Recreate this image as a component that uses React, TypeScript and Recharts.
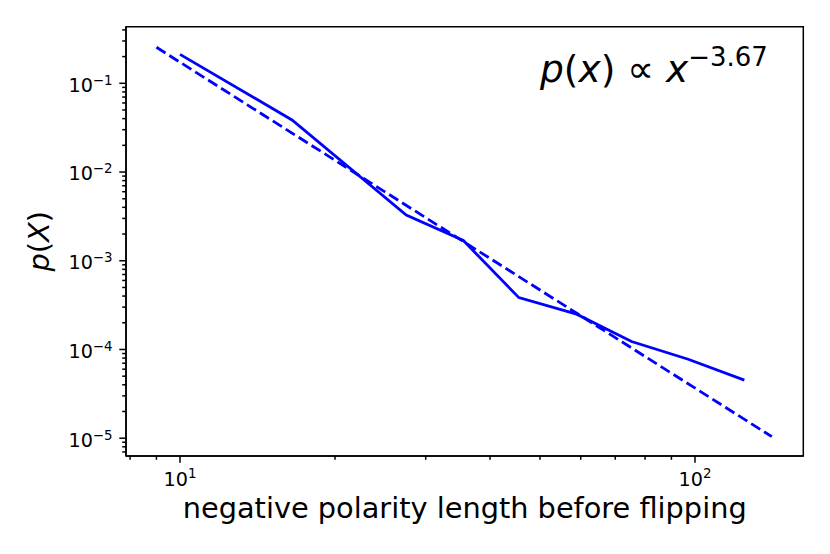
import React from 'react';
import { LineChart, Line, XAxis, YAxis, ReferenceArea, Customized } from 'recharts';

// Empirical distribution (solid) and power-law fit (dashed)
const solidX = [10.0, 16.5, 27.5, 35.5, 45.5, 58.9, 75.3, 97.0, 124.7];
const solidP = [0.212, 0.0386, 0.00328, 0.00169, 0.000384, 0.00025, 0.000123, 0.0000776, 0.0000451];
const fitX = [9.0, 141.0];
const fitP = [0.2546, 0.0000104];

// Axis ticks
const xMajorTicks = [10, 100];
const xMajorExp = ['1', '2'];
const xMinorTicks = [8, 9, 20, 30, 40, 50, 60, 70, 80, 90];
const yMajorTicks = [1e-1, 1e-2, 1e-3, 1e-4, 1e-5];
const yMajorExp = ['−1', '−2', '−3', '−4', '−5'];
const yMinorTicks = [
  7e-6, 8e-6, 9e-6,
  2e-5, 3e-5, 4e-5, 5e-5, 6e-5, 7e-5, 8e-5, 9e-5,
  2e-4, 3e-4, 4e-4, 5e-4, 6e-4, 7e-4, 8e-4, 9e-4,
  2e-3, 3e-3, 4e-3, 5e-3, 6e-3, 7e-3, 8e-3, 9e-3,
  2e-2, 3e-2, 4e-2, 5e-2, 6e-2, 7e-2, 8e-2, 9e-2,
  2e-1, 3e-1, 4e-1,
];

const xDomain: [number, number] = [7.855, 162.3];
const yDomain: [number, number] = [6.3e-6, 0.4345];

const xLabel = 'negative polarity length before flipping';
const fitExponent = '−3.67';

const solidData = solidX.map((x, i) => ({ x, p: solidP[i] }));
const fitData = fitX.map((x, i) => ({ x, p: fitP[i] }));

const FONT = '"DejaVu Sans", sans-serif';
const BLUE = '#0000ff';

const XTick = (props: any) => {
  const { x, y, payload } = props;
  const idx = xMajorTicks.indexOf(payload.value);
  const major = idx >= 0;
  return (
    <g>
      <line x1={x} x2={x} y1={y} y2={y + (major ? 6.7 : 3.8)} stroke="#000" strokeWidth={1.5} />
      {major && (
        <text x={x} y={y + 29.7} textAnchor="middle" fontSize={19.2} fontFamily={FONT} fill="#000">
          10<tspan dy={-7.7} fontSize={13.4}>{xMajorExp[idx]}</tspan>
        </text>
      )}
    </g>
  );
};

const YTick = (props: any) => {
  const { x, y, payload } = props;
  const idx = yMajorTicks.indexOf(payload.value);
  const major = idx >= 0;
  return (
    <g>
      <line x1={x} x2={x - (major ? 6.7 : 3.8)} y1={y} y2={y} stroke="#000" strokeWidth={1.5} />
      {major && (
        <text x={x - 13.4} y={y + 8.4} textAnchor="end" fontSize={19.2} fontFamily={FONT} fill="#000">
          10<tspan dy={-7} fontSize={13.4}>{yMajorExp[idx]}</tspan>
        </text>
      )}
    </g>
  );
};

const Texts = () => (
  <g fontFamily={FONT} fill="#000">
    <text x={464.7} y={518.3} textAnchor="middle" fontSize={28.8}>{xLabel}</text>
    <text x={49} y={241.3} textAnchor="middle" fontSize={28.8} transform="rotate(-90 49 241.3)">
      <tspan fontStyle="italic">p</tspan>(<tspan fontStyle="italic">X</tspan>)
    </text>
    <text x={540} y={82} fontSize={37.5}>
      <tspan fontStyle="italic">p</tspan>(<tspan fontStyle="italic">x</tspan>) ∝ <tspan fontStyle="italic">x</tspan>
      <tspan dy={-16} fontSize={26}>{fitExponent}</tspan>
    </text>
  </g>
);

export default function App() {
  return (
    <div style={{ position: 'absolute', left: 0, top: 0, width: 830, height: 554, background: '#fff' }}>
      <LineChart width={830} height={554} margin={{ top: 26.7, right: 26.7, left: 0, bottom: 0 }}>
        <XAxis
          type="number"
          dataKey="x"
          scale="log"
          domain={xDomain}
          allowDataOverflow
          ticks={[...xMinorTicks, ...xMajorTicks]}
          interval={0}
          tick={<XTick />}
          tickLine={false}
          tickSize={0}
          tickMargin={0}
          axisLine={{ stroke: '#000', strokeWidth: 1.5 }}
          height={98}
        />
        <YAxis
          type="number"
          dataKey="p"
          scale="log"
          domain={yDomain}
          allowDataOverflow
          ticks={[...yMinorTicks, ...yMajorTicks]}
          interval={0}
          tick={<YTick />}
          tickLine={false}
          tickSize={0}
          tickMargin={0}
          axisLine={{ stroke: '#000', strokeWidth: 1.5 }}
          width={126}
        />
        <ReferenceArea
          x1={xDomain[0]}
          x2={xDomain[1]}
          y1={yDomain[0]}
          y2={yDomain[1]}
          fill="none"
          fillOpacity={0}
          stroke="#000"
          strokeWidth={1.5}
          ifOverflow="visible"
        />
        <Line
          data={solidData}
          dataKey="p"
          type="linear"
          stroke={BLUE}
          strokeWidth={2.8}
          dot={false}
          activeDot={false}
          isAnimationActive={false}
        />
        <Line
          data={fitData}
          dataKey="p"
          type="linear"
          stroke={BLUE}
          strokeWidth={2.8}
          strokeDasharray="10.7 4.6"
          dot={false}
          activeDot={false}
          isAnimationActive={false}
        />
        <Customized component={Texts} />
      </LineChart>
    </div>
  );
}
